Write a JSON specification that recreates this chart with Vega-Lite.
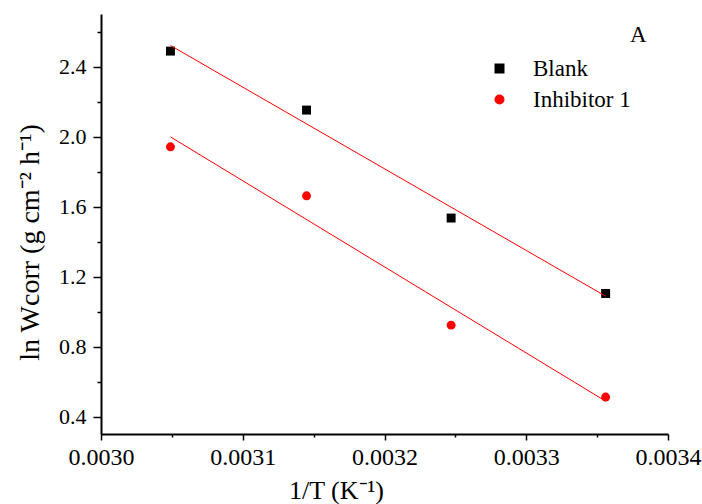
{
  "$schema": "https://vega.github.io/schema/vega-lite/v6.json",
  "autosize": {"type": "none"},
  "padding": {"left": 101, "top": 14, "right": 34, "bottom": 70},
  "width": 567,
  "height": 420,
  "background": "white",
  "config": {
    "view": {"stroke": null},
    "font": "Liberation Serif",
    "axis": {"labelFont": "Liberation Serif", "titleFont": "Liberation Serif", "labelColor": "black", "titleColor": "black", "domainColor": "black", "tickColor": "black", "grid": false, "titleFontWeight": "normal"},
    "legend": {"labelFont": "Liberation Serif"},
    "text": {"font": "Liberation Serif"}
  },
  "data": {
    "values": [
      {"series": "Blank", "invT": 0.003049, "lnW": 2.488},
      {"series": "Blank", "invT": 0.003145, "lnW": 2.151},
      {"series": "Blank", "invT": 0.003247, "lnW": 1.534},
      {"series": "Blank", "invT": 0.003356, "lnW": 1.103},
      {"series": "Inhibitor 1", "invT": 0.003049, "lnW": 1.941},
      {"series": "Inhibitor 1", "invT": 0.003145, "lnW": 1.661},
      {"series": "Inhibitor 1", "invT": 0.003247, "lnW": 0.922},
      {"series": "Inhibitor 1", "invT": 0.003356, "lnW": 0.511}
    ]
  },
  "resolve": {"axis": {"x": "independent", "y": "independent"}},
  "layer": [
    {
      "mark": {"type": "point", "filled": true, "opacity": 1, "size": 80},
      "encoding": {
        "x": {
          "field": "invT", "type": "quantitative",
          "scale": {"domain": [0.003, 0.0034], "nice": false, "zero": false},
          "axis": {
            "orient": "bottom", "values": [0.003, 0.0031, 0.0032, 0.0033, 0.0034], "format": ".4f",
            "labelFont": "Liberation Serif", "labelFontSize": 24, "labelPadding": 5, "tickSize": 6, "tickWidth": 1.5, "domainWidth": 2,
            "title": "1/T (K⁻¹)", "titleFont": "Liberation Serif", "titleFontSize": 26, "titleX": 235, "titleY": 64, "titleBaseline": "alphabetic", "titleAlign": "center",
            "labelFlush": false
          }
        },
        "y": {
          "field": "lnW", "type": "quantitative",
          "scale": {"domain": [0.3, 2.7], "nice": false, "zero": false},
          "axis": {
            "orient": "left", "values": [0.4, 0.8, 1.2, 1.6, 2.0, 2.4], "format": ".1f",
            "labelFont": "Liberation Serif", "labelFontSize": 22, "labelPadding": 7, "tickSize": 8, "tickWidth": 1.5, "domainWidth": 2,
            "title": "ln Wcorr (g cm⁻² h⁻¹)", "titleFont": "Liberation Serif", "titleFontSize": 28, "titleAngle": -90, "titleX": -71, "titleY": 228, "titleBaseline": "middle", "titleAlign": "center",
            "labelFlush": false
          }
        },
        "color": {
          "field": "series", "type": "nominal",
          "scale": {"domain": ["Blank", "Inhibitor 1"], "range": ["black", "red"]},
          "legend": {
            "title": null, "orient": "none", "legendX": 387, "legendY": 43,
            "labelFont": "Liberation Serif", "labelFontSize": 23, "labelColor": "black", "labelOffset": 22, "symbolSize": 100, "rowPadding": 7, "symbolStrokeWidth": 0
          }
        },
        "shape": {
          "field": "series", "type": "nominal",
          "scale": {"domain": ["Blank", "Inhibitor 1"], "range": ["square", "circle"]}
        }
      }
    },
    {
      "transform": [{"regression": "lnW", "on": "invT", "groupby": ["series"]}],
      "mark": {"type": "line", "color": "red", "strokeWidth": 1},
      "encoding": {
        "x": {
          "field": "invT", "type": "quantitative",
          "axis": {"orient": "bottom", "values": [0.00305, 0.00315, 0.00325, 0.00335], "labels": false, "domain": false, "tickSize": 3, "tickWidth": 1.5, "title": null}
        },
        "y": {
          "field": "lnW", "type": "quantitative",
          "axis": {"orient": "left", "values": [0.6, 1.0, 1.4, 1.8, 2.2, 2.6], "labels": false, "domain": false, "tickSize": 4, "tickWidth": 1.5, "title": null}
        },
        "detail": {"field": "series"}
      }
    },
    {
      "data": {"values": [{"label": "A"}]},
      "mark": {"type": "text", "fontSize": 23, "color": "black", "font": "Liberation Serif", "align": "center", "baseline": "middle"},
      "encoding": {
        "x": {"datum": 0.003379, "type": "quantitative", "axis": null},
        "y": {"datum": 2.58, "type": "quantitative", "axis": null},
        "text": {"field": "label"}
      }
    }
  ]
}
